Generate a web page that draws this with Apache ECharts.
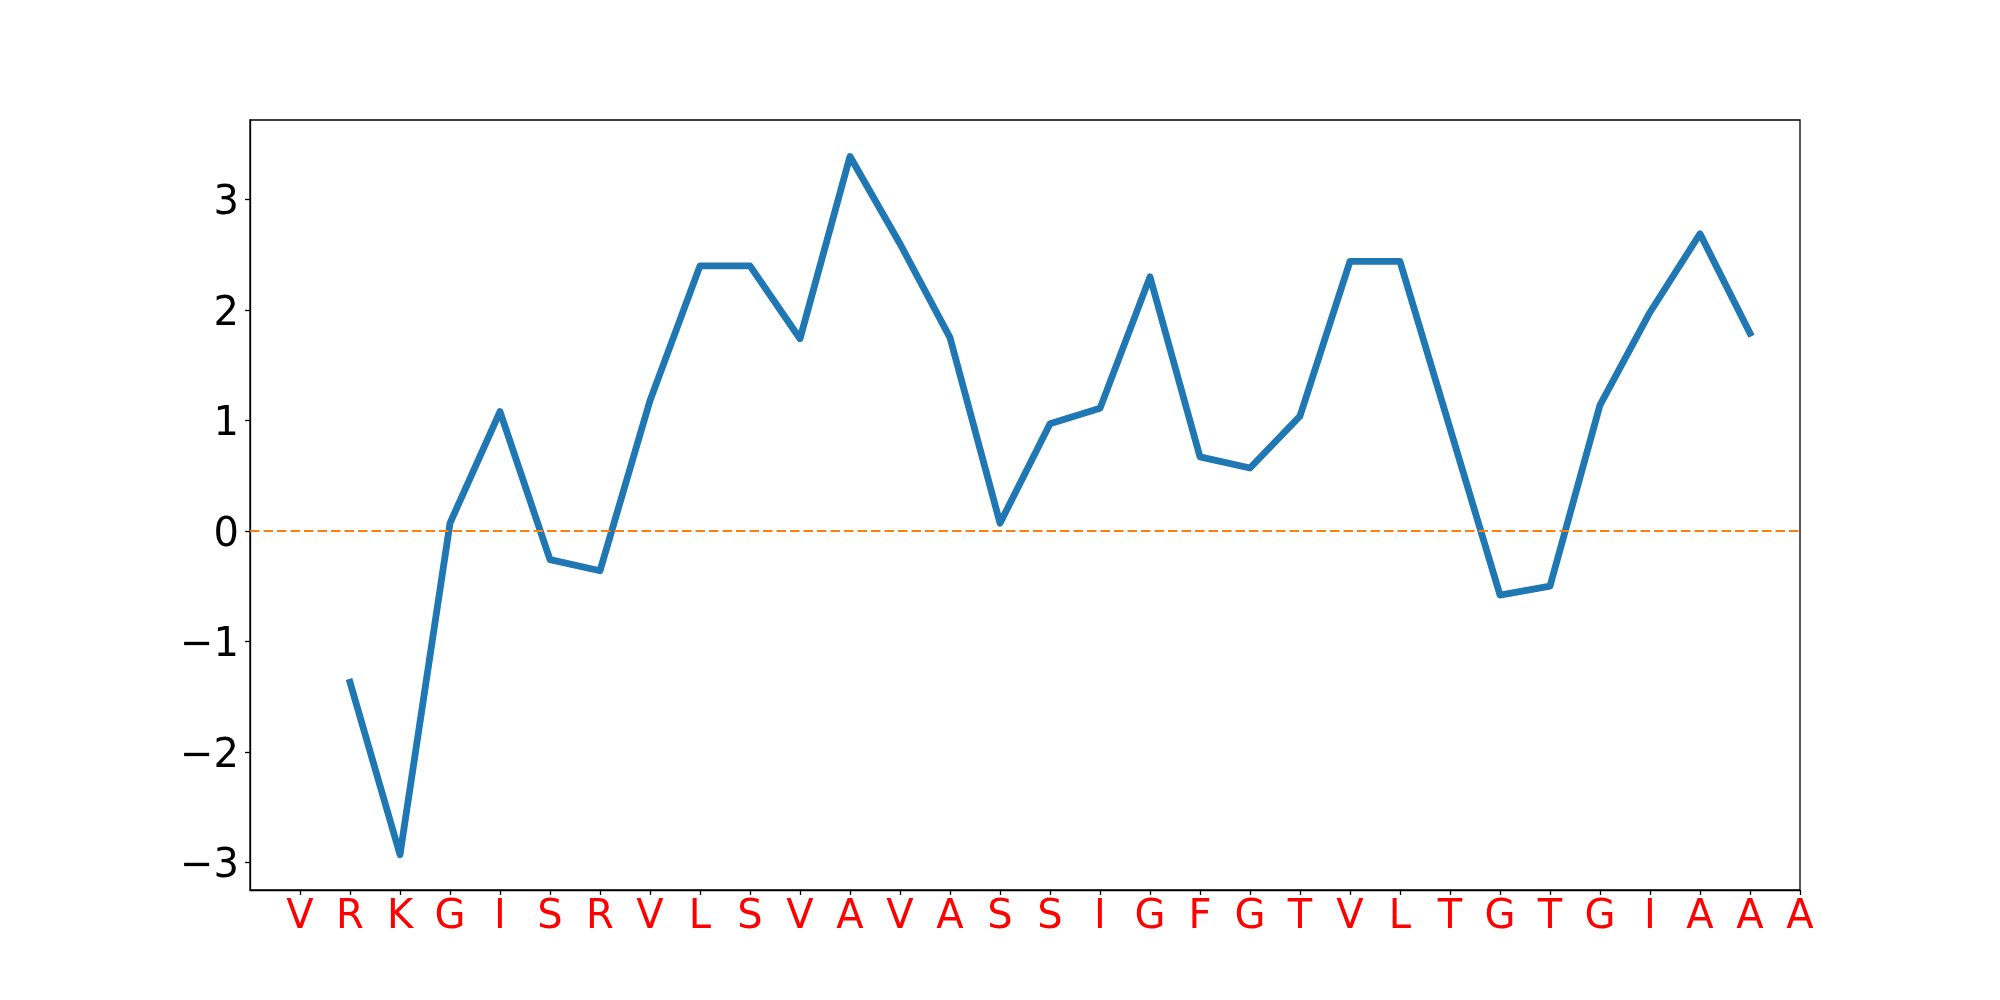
<!DOCTYPE html>
<html>
<head>
<meta charset="utf-8">
<script src="https://cdn.jsdelivr.net/npm/echarts@6/dist/echarts.min.js"></script>
<style>html,body{margin:0;padding:0;background:#fff}#c{width:2000px;height:1000px}</style>
</head>
<body>
<div id="c"></div>
<script>
const categories = ['V','R','K','G','I','S','R','V','L','S','V','A','V','A','S','S','I','G','F','G','T','V','L','T','G','T','G','I','A','A','A'];
const positions = [1,2,3,4,5,6,7,8,9,10,11,12,13,14,15,16,17,18,19,20,21,22,23,24,25,26,27,28,29];
const values = [-1.37,-2.93,0.07,1.08,-0.26,-0.36,1.18,2.40,2.40,1.74,3.39,2.60,1.75,0.07,0.97,1.11,2.30,0.67,0.57,1.04,2.44,2.44,0.93,-0.58,-0.50,1.14,1.98,2.69,1.79];
const yTicks = [-3,-2,-1,0,1,2,3];
const xTicks = categories.map((c,i)=>i);

const chart = echarts.init(document.getElementById('c'), null, {renderer:'canvas'});
chart.setOption({
  animation:false,
  backgroundColor:'#fff',
  grid:{left:250,right:200,top:120,bottom:110,show:true,borderColor:'#000',borderWidth:1.3,backgroundColor:'transparent'},
  xAxis:{
    type:'value',min:-1,max:30,interval:1,
    axisLine:{show:true,onZero:false,lineStyle:{color:'#000',width:1.3}},
    axisTick:{show:true,length:5,customValues:xTicks,lineStyle:{color:'#000',width:1.3}},
    splitLine:{show:false},
    axisLabel:{color:'#ff0000',fontFamily:'DejaVu Sans',fontSize:40,margin:8,customValues:xTicks,
      formatter:function(v){return v>=0 && v<categories.length ? categories[v] : '';}}
  },
  yAxis:{
    type:'value',min:-3.25,max:3.72,
    axisLine:{show:true,onZero:false,lineStyle:{color:'#000',width:1.3}},
    axisTick:{show:true,length:5,customValues:yTicks,lineStyle:{color:'#000',width:1.3}},
    splitLine:{show:false},
    axisLabel:{color:'#000',fontFamily:'DejaVu Sans',fontSize:40,margin:11,customValues:yTicks,
      formatter:function(v){return '{t|' + (v<0 ? '\u2212'+Math.abs(v) : String(v)) + '}';},
      rich:{t:{color:'#000',fontFamily:'DejaVu Sans',fontSize:40,padding:[9,0,0,0]}}}
  },
  series:[{
    type:'line',
    data:positions.map((p,i)=>[p,values[i]]),
    showSymbol:false,symbol:'none',
    lineStyle:{color:'#1f77b4',width:6.8,join:'round',cap:'square'},
    z:3,
    markLine:{silent:true,symbol:'none',label:{show:false},
      lineStyle:{color:'#ff7f0e',width:2.2,type:[9.5,4]},
      data:[{yAxis:0}]}
  }]
});
</script>
</body>
</html>
